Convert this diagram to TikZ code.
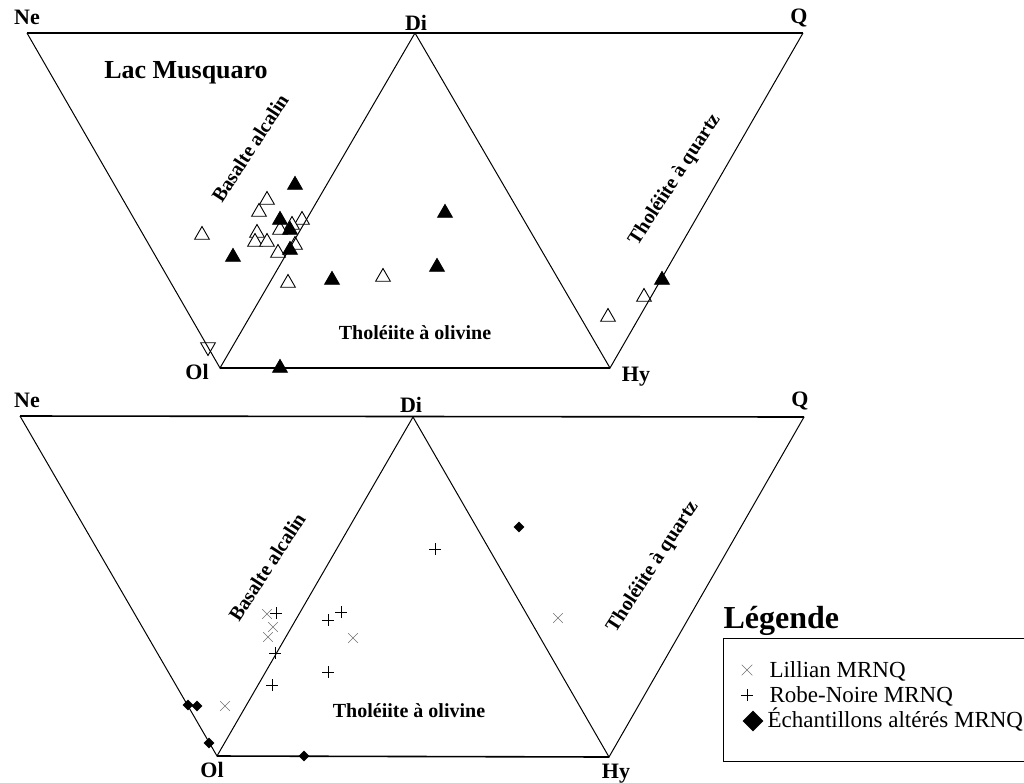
\documentclass[tikz,border=0pt]{standalone}
\usepackage{fontspec}
\setmainfont{Liberation Serif}
\usetikzlibrary{shapes.geometric, shapes.misc}

\begin{document}
\begin{tikzpicture}[x=1pt, y=-1pt,
    vtx/.style={anchor=base, font=\fontsize{22}{22}\selectfont\bfseries},
    zone/.style={font=\fontsize{20}{20}\selectfont\bfseries},
    tri/.style={regular polygon, regular polygon sides=3, draw=black, line width=0.9pt, inner sep=0pt, minimum size=17pt},
    opentri/.style={tri, fill=white},
    fulltri/.style={tri, fill=black},
    lillian/.style={cross out, draw=black!55, line width=0.6pt, minimum size=9pt, inner sep=0pt},
    robe/.style={cross out, draw=black, rotate=45, line width=0.8pt, minimum size=7.5pt, inner sep=0pt},
    altere/.style={diamond, fill=black, inner sep=0pt, minimum size=11pt},
    legtext/.style={anchor=base west, font=\fontsize{23}{23}\selectfont},
    side/.style={line width=1pt},
    base/.style={line width=1.6pt}]
    \useasboundingbox (0,0) rectangle (1024,782);

    \coordinate (ne1) at (27,33);
    \coordinate (di1) at (415,33);
    \coordinate (q1) at (803,33);
    \coordinate (ol1) at (220,368);
    \coordinate (hy1) at (610,368);

    \coordinate (ne2) at (20,416);
    \coordinate (di2) at (413,417);
    \coordinate (q2) at (804,417);
    \coordinate (ol2) at (217,756);
    \coordinate (hy2) at (609,757);

    \node[opentri] (o1) at (267,200) {};
    \node[opentri] (o2) at (259,212) {};
    \node[opentri] (o3) at (302,220) {};
    \node[opentri] (o4) at (292,225) {};
    \node[opentri] (o5) at (280,230) {};
    \node[opentri] (o6) at (257,233) {};
    \node[opentri] (o7) at (202,235) {};
    \node[opentri] (o8) at (255,242) {};
    \node[opentri] (o9) at (267,242) {};
    \node[opentri] (o10) at (295,245) {};
    \node[opentri] (o11) at (278,253) {};
    \node[opentri] (o12) at (288,283) {};
    \node[opentri] (o13) at (383,277) {};
    \node[opentri] (o14) at (644,297) {};
    \node[opentri] (o15) at (608,317) {};
    \node[opentri, shape border rotate=180] (o16) at (208,347) {};

    \node[fulltri] (f1) at (295,185) {};
    \node[fulltri] (f2) at (280,220) {};
    \node[fulltri] (f3) at (290,230) {};
    \node[fulltri] (f4) at (290,250) {};
    \node[fulltri] (f5) at (233,257) {};
    \node[fulltri] (f6) at (445,213) {};
    \node[fulltri] (f7) at (437,267) {};
    \node[fulltri] (f8) at (332,280) {};
    \node[fulltri] (f9) at (280,368) {};
    \node[fulltri] (f10) at (662,280) {};

    \node[lillian] (l1) at (267,614) {};
    \node[lillian] (l2) at (273,627) {};
    \node[lillian] (l3) at (268,637) {};
    \node[lillian] (l4) at (353,638) {};
    \node[lillian] (l5) at (225,706) {};
    \node[lillian] (l6) at (558,618) {};

    \node[robe] (r1) at (276,613) {};
    \node[robe] (r2) at (275,653) {};
    \node[robe] (r3) at (272,685) {};
    \node[robe] (r4) at (328,620) {};
    \node[robe] (r5) at (341,612) {};
    \node[robe] (r6) at (328,672) {};
    \node[robe] (r7) at (435,549) {};

    \node[altere] (a1) at (188,705) {};
    \node[altere] (a2) at (197,706) {};
    \node[altere] (a3) at (209,743) {};
    \node[altere] (a4) at (304,756) {};
    \node[altere] (a5) at (519,527) {};

    \draw[base] (ne1) -- (q1);
    \draw[base] (ol1) -- (hy1);
    \draw[side] (ne1) -- (ol1) -- (di1) -- (hy1) -- (q1);

    \draw[base] (ne2) -- (q2);
    \draw[base] (ol2) -- (hy2);
    \draw[side] (ne2) -- (ol2) -- (di2) -- (hy2) -- (q2);

    \node[vtx] (lne1) at (27,24) {Ne};
    \node[vtx] (ldi1) at (416,30) {Di};
    \node[vtx] (lq1) at (799,23) {Q};
    \node[vtx] (lol1) at (197,379) {Ol};
    \node[vtx] (lhy1) at (636,381) {Hy};

    \node[vtx] (lne2) at (27,407) {Ne};
    \node[vtx] (ldi2) at (411,412) {Di};
    \node[vtx] (lq2) at (800,406) {Q};
    \node[vtx] (lol2) at (212,777) {Ol};
    \node[vtx] (lhy2) at (616,778) {Hy};

    \node[font=\fontsize{26}{26}\selectfont\bfseries] (lac) at (186,73) {Lac Musquaro};
    \node[zone, rotate=57] (bas1) at (250,148) {Basalte alcalin};
    \node[zone, rotate=57] (qtz1) at (675,180) {Tholéiite à quartz};
    \node[zone] (oli1) at (415,333) {Tholéiite à olivine};

    \node[zone, rotate=57] (bas2) at (267,567) {Basalte alcalin};
    \node[zone, rotate=57] (qtz2) at (653,567) {Tholéiite à quartz};
    \node[zone] (oli2) at (409,711) {Tholéiite à olivine};

    \node[anchor=base west, font=\fontsize{32}{32}\selectfont\bfseries] (leg) at (720,628) {Légende};
    \draw[line width=0.9pt] (1024,638) -- (723,638) -- (723,761) -- (1024,761);
    \node[lillian, minimum size=10pt] (kl) at (747,670) {};
    \node[robe, minimum size=8pt] (kr) at (747,695) {};
    \node[altere, minimum size=21pt] (ka) at (753,721) {};
    \node[legtext] (tl) at (766,677) {Lillian MRNQ};
    \node[legtext] (tr) at (766,702) {Robe-Noire MRNQ};
    \node[legtext] (ta) at (764,727) {Échantillons altérés MRNQ};

\end{tikzpicture}
\end{document}
